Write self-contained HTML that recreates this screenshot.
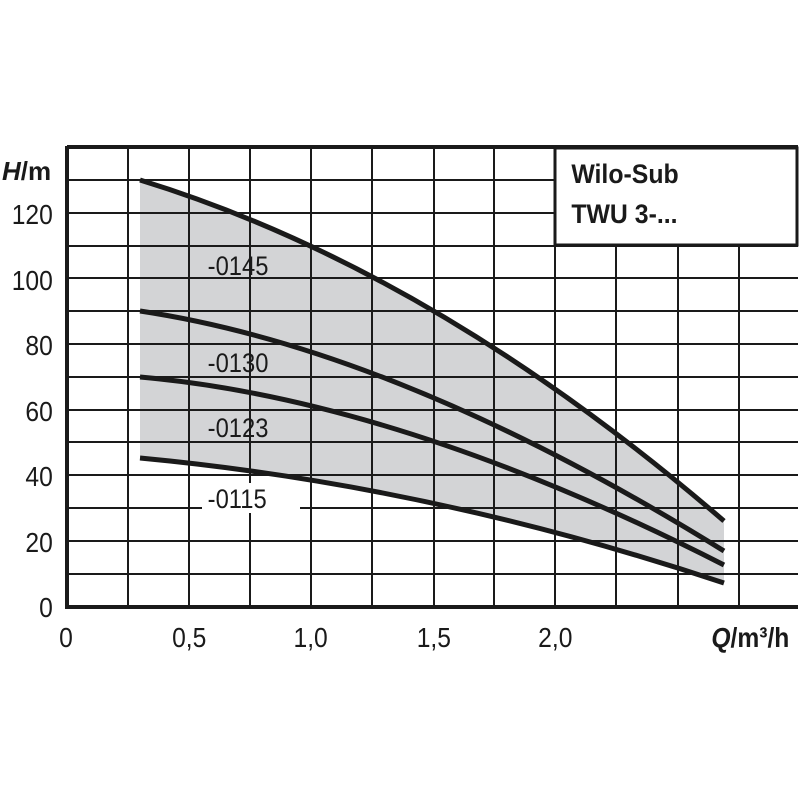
<!DOCTYPE html>
<html><head><meta charset="utf-8"><style>
html,body{margin:0;padding:0;background:#fff;}
svg{display:block;}
text{font-family:"Liberation Sans",sans-serif;fill:#1a1a1a;}
</style></head><body>
<svg width="800" height="800" viewBox="0 0 800 800">
<path d="M140,180 Q432,269.5 724,521 L724,583 Q432,485.5 140,458 Z" fill="#d3d4d6"/>
<g stroke="#1a1a1a" stroke-width="2">
<line x1="128" y1="147" x2="128" y2="607"/><line x1="189" y1="147" x2="189" y2="607"/>
<line x1="250" y1="147" x2="250" y2="607"/><line x1="311" y1="147" x2="311" y2="607"/>
<line x1="372" y1="147" x2="372" y2="607"/><line x1="434" y1="147" x2="434" y2="607"/>
<line x1="494" y1="147" x2="494" y2="607"/><line x1="555" y1="147" x2="555" y2="607"/>
<line x1="616" y1="147" x2="616" y2="607"/><line x1="678" y1="147" x2="678" y2="607"/>
<line x1="739" y1="147" x2="739" y2="607"/>
<line x1="67" y1="180" x2="798" y2="180"/><line x1="67" y1="213" x2="798" y2="213"/>
<line x1="67" y1="246" x2="798" y2="246"/><line x1="67" y1="278" x2="798" y2="278"/>
<line x1="67" y1="311" x2="798" y2="311"/><line x1="67" y1="344" x2="798" y2="344"/>
<line x1="67" y1="377" x2="798" y2="377"/><line x1="67" y1="410" x2="798" y2="410"/>
<line x1="67" y1="442" x2="798" y2="442"/><line x1="67" y1="475" x2="798" y2="475"/>
<line x1="67" y1="508" x2="798" y2="508"/><line x1="67" y1="541" x2="798" y2="541"/>
<line x1="67" y1="574" x2="798" y2="574"/>
</g>
<rect x="555" y="148" width="242" height="97" fill="#fff" stroke="#1a1a1a" stroke-width="3"/>
<path d="M67,147 L798,147 M67,146 L67,607 L798,607" stroke="#1a1a1a" stroke-width="4" fill="none"/>
<g stroke="#1a1a1a" stroke-width="5" fill="none" stroke-linecap="butt">
<path d="M140,180 Q432,269.5 724,521"/>
<path d="M140,311 Q400,350 724,551"/>
<path d="M140,377 Q400,400 724,565"/>
<path d="M140,458 Q432,485.5 724,583"/>
</g>
<rect x="202" y="483" width="98" height="30" fill="#fff"/>
<g font-size="27" transform="scale(0.88,1)">
<text x="236" y="275">-0145</text>
<text x="236" y="372">-0130</text>
<text x="236" y="437">-0123</text>
<text x="236" y="508">-0115</text>
</g>
<g font-size="28" text-anchor="end" transform="scale(0.88,1)">
<text x="60" y="224">120</text><text x="60" y="290">100</text>
<text x="60" y="355">80</text><text x="60" y="421">60</text>
<text x="60" y="486">40</text><text x="60" y="552">20</text>
<text x="60" y="617">0</text>
</g>
<g font-size="28" text-anchor="middle" transform="scale(0.88,1)">
<text x="75" y="647">0</text><text x="215" y="647">0,5</text>
<text x="353" y="647">1,0</text><text x="493" y="647">1,5</text>
<text x="631" y="647">2,0</text>
</g>
<text x="2" y="180" font-size="26" font-weight="bold"><tspan font-style="italic">H</tspan>/m</text>
<text x="897" y="647" font-size="28" font-weight="bold" text-anchor="end" transform="scale(0.88,1)"><tspan font-style="italic">Q</tspan>/m³/h</text>
<g font-size="27" font-weight="bold" transform="scale(0.92,1)">
<text x="621" y="183">Wilo-Sub</text>
<text x="621" y="223">TWU 3-...</text>
</g>
</svg>
</body></html>
